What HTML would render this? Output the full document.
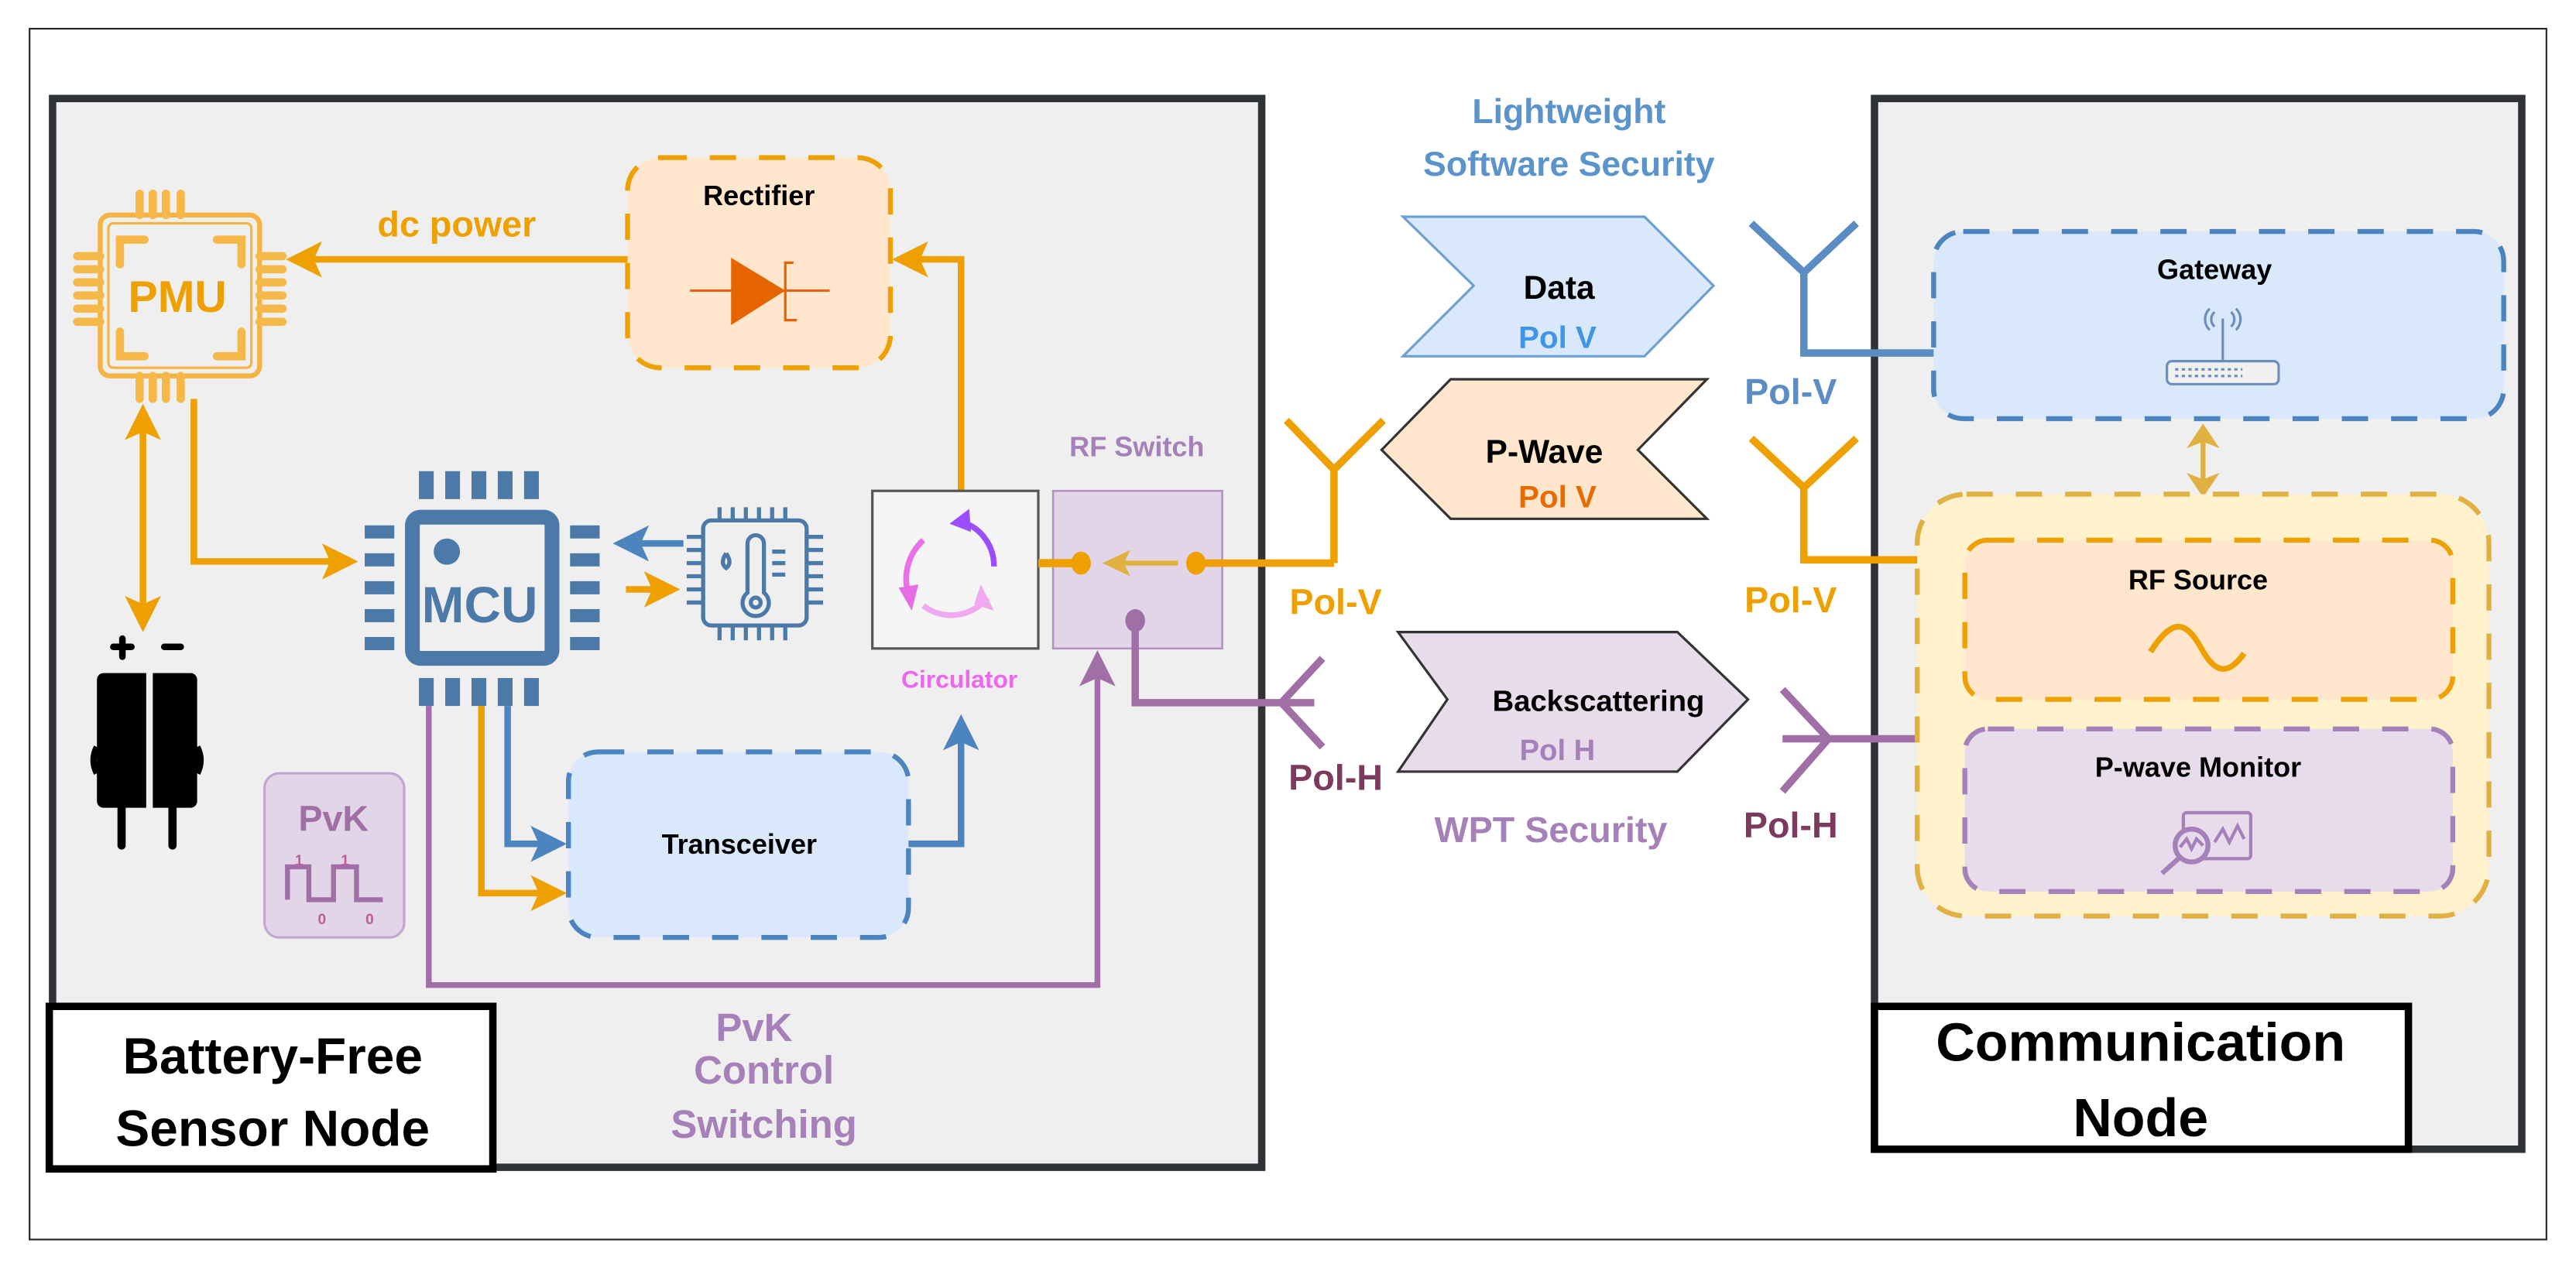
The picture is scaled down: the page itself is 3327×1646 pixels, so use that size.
<!DOCTYPE html>
<html><head><meta charset="utf-8"><style>
html,body{margin:0;padding:0;background:#fff;}
svg{display:block;}
text{font-family:"Liberation Sans",Arial,sans-serif;font-weight:bold;}
</style></head><body>
<svg width="3327" height="1646" viewBox="0 0 1568 776" preserveAspectRatio="none" xmlns="http://www.w3.org/2000/svg">
<rect x="0" y="0" width="1568" height="776" fill="#fff"/>
<rect x="18" y="17.5" width="1532" height="737.5" fill="#fff" stroke="#222" stroke-width="1"/>

<!-- Left panel -->
<rect x="32" y="60" width="736" height="651" fill="#efefef" stroke="#2f3237" stroke-width="4.5"/>
<rect x="30" y="613" width="270" height="99" fill="#fff" stroke="#000" stroke-width="4.5"/>
<text x="166" y="654" font-size="31" text-anchor="middle" fill="#000">Battery-Free</text>
<text x="166" y="698" font-size="31" text-anchor="middle" fill="#000">Sensor Node</text>

<!-- Right panel -->
<rect x="1141" y="60" width="394" height="640" fill="#efefef" stroke="#2f3237" stroke-width="4.5"/>
<rect x="1141" y="613" width="325" height="87" fill="#fff" stroke="#000" stroke-width="4.5"/>
<text x="1303" y="646" font-size="33" text-anchor="middle" fill="#000">Communication</text>
<text x="1303" y="692" font-size="33" text-anchor="middle" fill="#000">Node</text>

<!-- Rectifier -->
<rect x="382" y="96" width="160" height="128" rx="20" fill="#ffe6cc" stroke="#eda000" stroke-width="3" stroke-dasharray="16,14"/>
<text x="462" y="125" font-size="17" text-anchor="middle" fill="#000">Rectifier</text>
<line x1="420" y1="177" x2="505" y2="177" stroke="#e6641a" stroke-width="1.5"/>
<path d="M445,157 L478,177 L445,198 Z" fill="#e66400"/>
<path d="M483,160 L478,160 L478,195 L485,195" fill="none" stroke="#e66400" stroke-width="1.5"/>

<!-- PMU -->
<g stroke="#f5b342" stroke-width="3" fill="none">
<rect x="61" y="131" width="97" height="98" rx="6"/>
<rect x="66" y="136" width="87" height="88" rx="3" stroke-width="1.5"/>
<g stroke-width="5" stroke-linecap="round" stroke="#f7b84a">
<path d="M73,161 V146 H88"/><path d="M132,146 H147 V161"/><path d="M73,202 V217 H88"/><path d="M132,217 H147 V202"/>
<path d="M85,118 V131 M93,118 V131 M101,118 V131 M110,118 V131"/>
<path d="M85,229 V243 M93,229 V243 M101,229 V243 M110,229 V243"/>
<path d="M47,156 H61 M47,164 H61 M47,172 H61 M47,180 H61 M47,188 H61 M47,196 H61"/>
<path d="M158,156 H172 M158,164 H172 M158,172 H172 M158,180 H172 M158,188 H172 M158,196 H172"/>
</g></g>
<text x="108" y="190" font-size="27" text-anchor="middle" fill="#eda000">PMU</text>

<!-- dc power -->
<text x="278" y="144" font-size="22" text-anchor="middle" fill="#eda000">dc power</text>
<line x1="382" y1="158" x2="180" y2="158" stroke="#eda000" stroke-width="4"/>
<path d="M174,158 L196,147 L191,158 L196,169 Z" fill="#eda000"/>
<path d="M585,299 V158 H552" fill="none" stroke="#eda000" stroke-width="4"/>
<path d="M543,158 L565,147 L560,158 L565,169 Z" fill="#eda000"/>
<path d="M118,243 V342 H208" fill="none" stroke="#eda000" stroke-width="4"/>
<path d="M218,342 L196,331 L201,342 L196,353 Z" fill="#eda000"/>
<line x1="87" y1="255" x2="87" y2="376" stroke="#eda000" stroke-width="4"/>
<path d="M87,246 L76,268 L87,263 L98,268 Z" fill="#eda000"/>
<path d="M87,385 L76,363 L87,368 L98,363 Z" fill="#eda000"/>

<!-- Battery -->
<path d="M69,394 H80 M74.5,389 V400 M100,394 H110" stroke="#000" stroke-width="4" stroke-linecap="round"/>
<rect x="59" y="410" width="61" height="82" rx="4" fill="#000"/>
<line x1="91" y1="408" x2="91" y2="494" stroke="#efefef" stroke-width="4"/>
<path d="M59,455 q-4,8 0,16 M120,455 q4,8 0,16" stroke="#000" stroke-width="4" fill="none"/>
<line x1="74" y1="490" x2="74" y2="515" stroke="#000" stroke-width="5" stroke-linecap="round"/>
<line x1="105" y1="490" x2="105" y2="515" stroke="#000" stroke-width="5" stroke-linecap="round"/>

<!-- MCU -->
<g fill="#4c7aa8">
<rect x="255" y="287" width="9" height="17"/><rect x="271" y="287" width="9" height="17"/><rect x="287" y="287" width="9" height="17"/><rect x="303" y="287" width="9" height="17"/><rect x="319" y="287" width="9" height="17"/>
<rect x="255" y="413" width="9" height="17"/><rect x="271" y="413" width="9" height="17"/><rect x="287" y="413" width="9" height="17"/><rect x="303" y="413" width="9" height="17"/><rect x="319" y="413" width="9" height="17"/>
<rect x="222" y="320" width="18" height="8"/><rect x="222" y="337" width="18" height="8"/><rect x="222" y="354" width="18" height="8"/><rect x="222" y="371" width="18" height="8"/><rect x="222" y="388" width="18" height="8"/>
<rect x="347" y="320" width="18" height="8"/><rect x="347" y="337" width="18" height="8"/><rect x="347" y="354" width="18" height="8"/><rect x="347" y="371" width="18" height="8"/><rect x="347" y="388" width="18" height="8"/>
<circle cx="272" cy="336" r="8"/>
</g>
<rect x="251" y="315" width="85" height="86" rx="5" fill="none" stroke="#4c7aa8" stroke-width="9"/>
<text x="292" y="379" font-size="31" text-anchor="middle" fill="#4c7aa8" font-weight="normal">MCU</text>

<!-- Temp sensor -->
<g stroke="#4c7aa8" stroke-width="2.5" fill="none">
<rect x="428" y="317" width="63" height="64" rx="5"/>
<path d="M438,309 V317 M446,309 V317 M454,309 V317 M462,309 V317 M470,309 V317 M478,309 V317"/>
<path d="M438,381 V390 M446,381 V390 M454,381 V390 M462,381 V390 M470,381 V390 M478,381 V390"/>
<path d="M418,327 H428 M418,335 H428 M418,343 H428 M418,351 H428 M418,359 H428 M418,367 H428"/>
<path d="M491,327 H501 M491,335 H501 M491,343 H501 M491,351 H501 M491,359 H501 M491,367 H501"/>
<path d="M455,361 V331 a5,5 0 0 1 10,0 V361 a8,8 0 1 1 -10,0 Z"/>
<circle cx="460" cy="367" r="3"/>
<path d="M442,337 q-4,6 0,9 q4,-3 0,-9"/>
<path d="M470,336 H478 M470,343 H478 M470,350 H478"/>
</g>
<line x1="416" y1="331" x2="382" y2="331" stroke="#4c84c0" stroke-width="4"/>
<path d="M373,331 L395,320 L390,331 L395,342 Z" fill="#4c84c0"/>
<line x1="381" y1="359" x2="405" y2="359" stroke="#eda000" stroke-width="4"/>
<path d="M414,359 L392,348 L397,359 L392,370 Z" fill="#eda000"/>

<!-- Circulator -->
<rect x="531" y="299" width="101" height="96" fill="#f5f5f5" stroke="#555" stroke-width="1.5"/>
<path d="M562,329 A32,32 0 0 0 553,362" fill="none" stroke="#ea6fe8" stroke-width="3.5"/>
<path d="M547,358 L555,372 L559,356 Z" fill="#e66ce6"/>
<path d="M562,369 A28,28 0 0 0 601,364" fill="none" stroke="#f0a8f0" stroke-width="3.5"/>
<path d="M597,356 L605,372 L593,368 Z" fill="#f0a8f0"/>
<path d="M586,318 A28,28 0 0 1 605,345" fill="none" stroke="#9b4dff" stroke-width="3.5"/>
<path d="M590,310 L578,319 L591,324 Z" fill="#9b4dff"/>
<text x="584" y="419" font-size="15" text-anchor="middle" fill="#ee66ee">Circulator</text>

<!-- RF Switch -->
<rect x="641" y="299" width="103" height="96" fill="#e1d5e7" stroke="#b590c2" stroke-width="1.2"/>
<text x="692" y="278" font-size="17" text-anchor="middle" fill="#a680b8">RF Switch</text>
<line x1="632" y1="343" x2="658" y2="343" stroke="#eda000" stroke-width="5"/>
<line x1="728" y1="343" x2="812" y2="343" stroke="#eda000" stroke-width="4.5"/>
<ellipse cx="658" cy="343" rx="6" ry="7" fill="#eda000"/>
<ellipse cx="728" cy="343" rx="6" ry="7" fill="#eda000"/>
<line x1="717" y1="343" x2="680" y2="343" stroke="#e0b040" stroke-width="3"/>
<path d="M671,343 L688,335 L684,343 L688,351 Z" fill="#e0b040"/>
<ellipse cx="691" cy="378" rx="6" ry="7" fill="#a06fa6"/>
<path d="M691,378 V428 H780" fill="none" stroke="#a06fa6" stroke-width="4.5"/>

<!-- Left antennas -->
<path d="M812,343 V286 M783,256 L812,286 L842,256" fill="none" stroke="#eda000" stroke-width="4.5"/>
<text x="813" y="374" font-size="22" text-anchor="middle" fill="#eda000">Pol-V</text>
<path d="M805,401 L780,428 L805,455 M780,428 H800" fill="none" stroke="#a06fa6" stroke-width="4.5"/>
<text x="813" y="481" font-size="22" text-anchor="middle" fill="#7c3a5e">Pol-H</text>

<!-- Transceiver -->
<rect x="346" y="458" width="207" height="113" rx="18" fill="#dae8fc" stroke="#4c84c0" stroke-width="3" stroke-dasharray="16,14"/>
<text x="450" y="520" font-size="17" text-anchor="middle" fill="#000">Transceiver</text>
<path d="M309,430 V514 H336" fill="none" stroke="#4c84c0" stroke-width="4"/>
<path d="M345,514 L323,503 L328,514 L323,525 Z" fill="#4c84c0"/>
<path d="M293,430 V544 H336" fill="none" stroke="#eda000" stroke-width="4"/>
<path d="M345,544 L323,533 L328,544 L323,555 Z" fill="#eda000"/>
<path d="M553,514 H585 V445" fill="none" stroke="#4c84c0" stroke-width="4"/>
<path d="M585,435 L574,457 L585,452 L596,457 Z" fill="#4c84c0"/>
<path d="M261,430 V600 H668 V405" fill="none" stroke="#a06fa6" stroke-width="3.5"/>
<path d="M668,396 L657,418 L668,413 L679,418 Z" fill="#a06fa6"/>

<!-- PvK box -->
<rect x="161" y="471" width="85" height="100" rx="9" fill="#e1d5e7" stroke="#c3a6d0" stroke-width="1.5"/>
<text x="203" y="506" font-size="22" text-anchor="middle" fill="#a06fa6">PvK</text>
<path d="M175,548 V528 H188 V548 H203 V528 H217 V548 H233" fill="none" stroke="#a06fa6" stroke-width="3"/>
<text x="182" y="527" font-size="9" text-anchor="middle" fill="#c05a9a" font-weight="normal">1</text>
<text x="210" y="527" font-size="9" text-anchor="middle" fill="#c05a9a" font-weight="normal">1</text>
<text x="196" y="563" font-size="9" text-anchor="middle" fill="#c05a9a" font-weight="normal">0</text>
<text x="225" y="563" font-size="9" text-anchor="middle" fill="#c05a9a" font-weight="normal">0</text>

<text x="459" y="634" font-size="24" text-anchor="middle" fill="#a680b8">PvK</text>
<text x="465" y="660" font-size="24" text-anchor="middle" fill="#a680b8">Control</text>
<text x="465" y="693" font-size="24" text-anchor="middle" fill="#a680b8">Switching</text>

<!-- Middle -->
<text x="955" y="75" font-size="21" text-anchor="middle" fill="#5b93cc">Lightweight</text>
<text x="955" y="107" font-size="21" text-anchor="middle" fill="#5b93cc">Software Security</text>
<path d="M854,132 L1001,132 L1043,174 L1001,217 L854,217 L897,174 Z" fill="#dae8fc" stroke="#6c9fd2" stroke-width="1.5"/>
<text x="949" y="182" font-size="20" text-anchor="middle" fill="#000">Data</text>
<text x="948" y="212" font-size="19" text-anchor="middle" fill="#3f96e6">Pol V</text>
<path d="M883,231 L1039,231 L997,274 L1039,316 L883,316 L841,274 Z" fill="#ffe6cc" stroke="#333" stroke-width="1.5"/>
<text x="940" y="282" font-size="20" text-anchor="middle" fill="#000">P-Wave</text>
<text x="948" y="309" font-size="19" text-anchor="middle" fill="#e66b00">Pol V</text>
<path d="M851,385 L1021,385 L1064,426 L1021,470 L851,470 L881,426 Z" fill="#e8dcec" stroke="#333" stroke-width="1.5"/>
<text x="973" y="433" font-size="18" text-anchor="middle" fill="#000">Backscattering</text>
<text x="948" y="463" font-size="18" text-anchor="middle" fill="#a680b8">Pol H</text>
<text x="944" y="513" font-size="22" text-anchor="middle" fill="#a680b8">WPT Security</text>

<!-- Right antennas -->
<path d="M1066,136 L1098,166 L1130,136 M1098,166 V215 H1178" fill="none" stroke="#5b8cc4" stroke-width="4.5"/>
<text x="1090" y="246" font-size="22" text-anchor="middle" fill="#5b8cc4">Pol-V</text>
<path d="M1066,267 L1098,297 L1130,267 M1098,297 V341 H1197" fill="none" stroke="#eda000" stroke-width="4.5"/>
<text x="1090" y="373" font-size="22" text-anchor="middle" fill="#eda000">Pol-V</text>
<path d="M1085,420 L1113,450 L1085,482 M1085,450 H1197" fill="none" stroke="#a06fa6" stroke-width="4.5"/>
<text x="1090" y="510" font-size="22" text-anchor="middle" fill="#7c3a5e">Pol-H</text>

<!-- Gateway -->
<rect x="1177" y="141" width="347" height="114" rx="18" fill="#dae8fc" stroke="#4c84c0" stroke-width="3" stroke-dasharray="16,14"/>
<text x="1348" y="170" font-size="17" text-anchor="middle" fill="#000">Gateway</text>
<g stroke="#6c8ebf" stroke-width="1.5" fill="none">
<line x1="1353" y1="194" x2="1353" y2="220"/>
<path d="M1348,190 a6,6 0 0 0 0,9 M1358,190 a6,6 0 0 1 0,9 M1345,188 a9,9 0 0 0 0,13 M1361,188 a9,9 0 0 1 0,13"/>
<rect x="1319" y="220" width="68" height="14" rx="3" fill="#f0f0f0"/>
<path d="M1324,225 H1365 M1324,229 H1365" stroke-dasharray="2,2"/>
</g>
<!-- double arrow -->
<line x1="1341" y1="265" x2="1341" y2="296" stroke="#e0b040" stroke-width="3"/>
<path d="M1341,258 L1331,273 L1341,269 L1351,273 Z" fill="#e0b040"/>
<path d="M1341,303 L1331,288 L1341,292 L1351,288 Z" fill="#e0b040"/>

<!-- Yellow group -->
<rect x="1167" y="301" width="348" height="257" rx="30" fill="#fff2cc" stroke="#e0b040" stroke-width="3" stroke-dasharray="16,14"/>
<rect x="1196" y="329" width="297" height="97" rx="14" fill="#ffe6cc" stroke="#eda000" stroke-width="3" stroke-dasharray="16,14"/>
<text x="1338" y="359" font-size="17" text-anchor="middle" fill="#000">RF Source</text>
<path d="M1309,397 C1322,377 1330,377 1340,395 C1348,410 1356,412 1366,398" fill="none" stroke="#eda000" stroke-width="3.5"/>
<rect x="1196" y="444" width="297" height="99" rx="14" fill="#e8dcec" stroke="#a680b8" stroke-width="3" stroke-dasharray="16,14"/>
<text x="1338" y="473" font-size="17" text-anchor="middle" fill="#000">P-wave Monitor</text>
<g stroke="#a680b8" stroke-width="2" fill="none">
<rect x="1329" y="495" width="41" height="28" rx="2"/>
<path d="M1348,513 l5,-8 l4,8 l5,-10 l4,8"/>
<circle cx="1334" cy="515" r="10" fill="#e8dcec" stroke-width="3"/>
<path d="M1327,516 l4,-5 l3,6 l3,-6 l4,4"/>
<line x1="1326" y1="523" x2="1316" y2="532" stroke-width="3"/>
</g>
</svg>
</body></html>
